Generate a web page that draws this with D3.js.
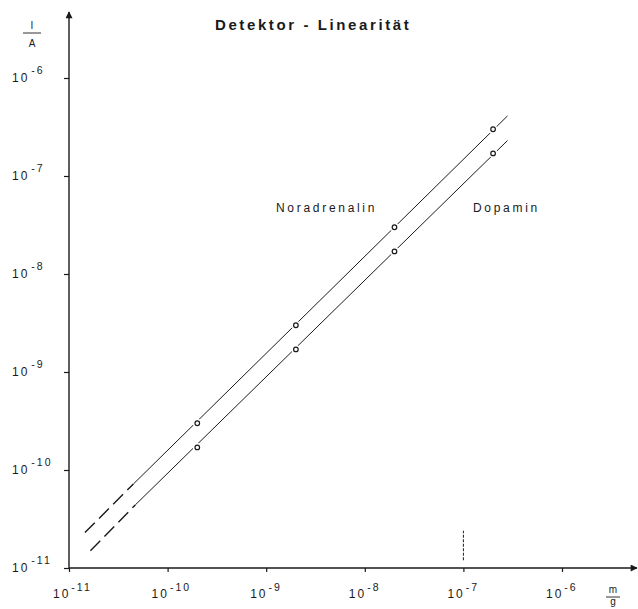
<!DOCTYPE html>
<html>
<head>
<meta charset="utf-8">
<script src="https://cdn.jsdelivr.net/npm/d3@7"></script>
<style>
  body { margin: 0; background: #fff; }
  svg text { font-family: "Liberation Sans", Arial, sans-serif; fill: #1a1a1a; }
</style>
</head>
<body>
<div id="chart"></div>
<script>
// measured points (mass in g, current in A)
var masses = [2e-10, 2e-9, 2e-8, 2e-7];
var noradrenalin = [3e-10, 3e-9, 3e-8, 3e-7];
var dopamin = [1.7e-10, 1.7e-9, 1.7e-8, 1.7e-7];

// fitted lines: [mass, current] -- dashed extrapolation start, solid start, solid end
var noradrenalinLine = [[1.45e-11, 2.3e-11], [4.5e-11, 7.2e-11], [2.8e-7, 4.1e-7]];
var dopaminLine = [[1.65e-11, 1.5e-11], [4.7e-11, 4.4e-11], [2.8e-7, 2.3e-7]];

var xTickExps = [-11, -10, -9, -8, -7, -6];
var yTickExps = [-11, -10, -9, -8, -7, -6];

// short vertical mark at 10^-7 g
var markMass = 1e-7;
var markRange = [1.2e-11, 2.4e-11];

const width = 638,
    height = 609;

const x = d3.scaleLog()
    .domain([1e-11, 1e-6])
    .range([69, 562]);

const y = d3.scaleLog()
    .domain([1e-11, 1e-6])
    .range([568, 78]);

const svg = d3.select("#chart")
    .append("svg")
    .attr("width", width)
    .attr("height", height);

const ink = "#1a1a1a";

// arrow heads
svg.append("defs").append("marker")
    .attr("id", "arrow")
    .attr("viewBox", "0 0 10 10")
    .attr("refX", 9)
    .attr("refY", 5)
    .attr("markerWidth", 9)
    .attr("markerHeight", 7)
    .attr("markerUnits", "userSpaceOnUse")
    .attr("orient", "auto")
    .append("path")
    .attr("d", "M0,0 L10,5 L0,10 z")
    .attr("fill", ink);

// axes (ticks through d3-axis, domain lines drawn with arrows)
svg.append("g")
    .attr("transform", "translate(0," + y.range()[0] + ")")
    .call(d3.axisBottom(x)
        .tickValues(xTickExps.map(function (e) { return Math.pow(10, e); }))
        .tickSize(4)
        .tickFormat(""));

svg.append("g")
    .attr("transform", "translate(" + x.range()[0] + ",0)")
    .call(d3.axisLeft(y)
        .tickValues(yTickExps.map(function (e) { return Math.pow(10, e); }))
        .tickSize(5)
        .tickFormat(""));

svg.selectAll(".domain").remove();
svg.selectAll(".tick line").attr("stroke", ink).attr("stroke-width", 1.2);

svg.append("line")
    .attr("x1", x.range()[0]).attr("y1", y.range()[0])
    .attr("x2", 637).attr("y2", y.range()[0])
    .attr("stroke", ink).attr("stroke-width", 1.6)
    .attr("marker-end", "url(#arrow)");

svg.append("line")
    .attr("x1", x.range()[0]).attr("y1", y.range()[0])
    .attr("x2", x.range()[0]).attr("y2", 12)
    .attr("stroke", ink).attr("stroke-width", 1.4)
    .attr("marker-end", "url(#arrow)");

// tick labels 10^n
xTickExps.forEach(function (e) {
    var t = svg.append("text")
        .attr("x", x(Math.pow(10, e)) - 16)
        .attr("y", 598)
        .attr("font-size", 12)
        .attr("letter-spacing", 2);
    t.append("tspan").text("10");
    t.append("tspan").attr("dx", 1).attr("dy", -7).attr("font-size", 10.5).text("-" + (-e));
});

yTickExps.forEach(function (e) {
    var t = svg.append("text")
        .attr("x", 12)
        .attr("y", y(Math.pow(10, e)) + 4)
        .attr("font-size", 12)
        .attr("letter-spacing", 2);
    t.append("tspan").text("10");
    t.append("tspan").attr("dx", 2).attr("dy", -8).attr("font-size", 10.5).text("-" + (-e));
});

// unit fractions
function fraction(cx, topText, bottomText, topY, lineY, bottomY, half) {
    svg.append("text").attr("x", cx).attr("y", topY)
        .attr("text-anchor", "middle").attr("font-size", 10).text(topText);
    svg.append("line")
        .attr("x1", cx - half).attr("x2", cx + half)
        .attr("y1", lineY).attr("y2", lineY)
        .attr("stroke", ink).attr("stroke-width", 0.9);
    svg.append("text").attr("x", cx).attr("y", bottomY)
        .attr("text-anchor", "middle").attr("font-size", 10).text(bottomText);
}
fraction(32, "I", "A", 29, 33, 47, 9);
fraction(613, "m", "g", 593, 597, 605, 7);

// title
svg.append("text")
    .attr("x", 215)
    .attr("y", 30)
    .attr("font-size", 15)
    .attr("letter-spacing", 2.6)
    .style("font-weight", "bold")
    .text("Detektor - Linearität");

// series labels
svg.append("text")
    .attr("x", 276).attr("y", 212)
    .attr("font-size", 12)
    .attr("letter-spacing", 2.7)
    .text("Noradrenalin");

svg.append("text")
    .attr("x", 473).attr("y", 212)
    .attr("font-size", 12)
    .attr("letter-spacing", 2.7)
    .text("Dopamin");

// vertical mark
svg.append("line")
    .attr("x1", x(markMass)).attr("x2", x(markMass))
    .attr("y1", y(markRange[0])).attr("y2", y(markRange[1]))
    .attr("stroke", ink).attr("stroke-width", 1)
    .attr("stroke-dasharray", "3,1.5");

// lines
const line = d3.line()
    .x(function (d) { return x(d[0]); })
    .y(function (d) { return y(d[1]); });

var series = [
    { line: noradrenalinLine, values: noradrenalin },
    { line: dopaminLine, values: dopamin }
];

series.forEach(function (s) {
    svg.append("path")
        .attr("d", line(s.line.slice(0, 2)))
        .attr("fill", "none")
        .attr("stroke", ink)
        .attr("stroke-width", 1.4)
        .attr("stroke-dasharray", "14,6");

    svg.append("path")
        .attr("d", line(s.line.slice(1)))
        .attr("fill", "none")
        .attr("stroke", ink)
        .attr("stroke-width", 1);

    var pts = masses.map(function (m, i) { return [m, s.values[i]]; });

    // white halo so the line breaks around each marker
    svg.append("g").selectAll("circle")
        .data(pts)
        .enter()
        .append("circle")
        .attr("cx", function (d) { return x(d[0]); })
        .attr("cy", function (d) { return y(d[1]); })
        .attr("r", 4.5)
        .attr("fill", "#fff");

    svg.append("g").selectAll("circle")
        .data(pts)
        .enter()
        .append("circle")
        .attr("cx", function (d) { return x(d[0]); })
        .attr("cy", function (d) { return y(d[1]); })
        .attr("r", 2.3)
        .attr("fill", "#fff")
        .attr("stroke", ink)
        .attr("stroke-width", 1.2);
});
</script>
</body>
</html>
